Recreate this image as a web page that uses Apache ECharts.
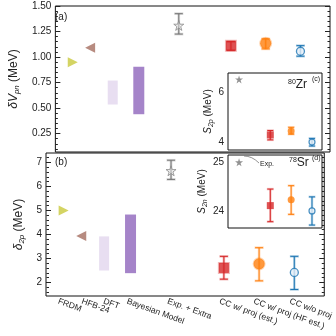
<!DOCTYPE html>
<html>
<head>
<meta charset="utf-8">
<script src="https://cdn.jsdelivr.net/npm/echarts@6/dist/echarts.min.js"></script>
<style>
  html, body { margin: 0; padding: 0; background: #fff; }
  #main { width: 336px; height: 336px; }
</style>
</head>
<body>
<div id="main"></div>
<script>
var myChart = echarts.init(document.getElementById('main'));

// x positions of the methods and their names
var xPos = [0.5, 1.0, 1.65, 2.4, 3.55, 5.05, 6.05, 7.05];
var categories = ['FRDM', 'HFB-24', 'DFT', 'Bayesian Model', 'Exp. + Extra',
                  'CC w/ proj (est.)', 'CC w/ proj (HF est.)', 'CC w/o proj'];

// panel (a): delta V_pn
var frdmA = 0.95;
var hfbA = 1.09;
var dftA = [0.535, 0.77];
var bayesA = [0.44, 0.905];
var expA = [1.31, 1.225, 1.425];       // value, low, high
var ccProjA = [1.11, 1.066, 1.151];
var ccProjHFA = [1.135, 1.08, 1.178];
var ccNoProjA = [1.057, 1.008, 1.112];

// panel (b): delta_2p
var frdmB = 5.0;
var hfbB = 3.94;
var dftB = [2.5, 3.92];
var bayesB = [2.39, 4.83];
var expB = [6.65, 6.29, 7.09];
var ccProjB = [2.61, 2.14, 3.09];
var ccProjHFB = [2.78, 2.07, 3.45];
var ccNoProjB = [2.42, 1.71, 3.09];

// inset (c): S_2p of 80Zr
var expC = 6.54;
var ccProjC = [4.29, 4.09, 4.47];
var ccProjHFC = [4.45, 4.32, 4.6];
var ccNoProjC = [4.0, 3.84, 4.15];

// inset (d): S_2n of 78Sr
var expD = 25.0;
var ccProjD = [24.11, 23.78, 24.45];
var ccProjHFD = [24.23, 23.93, 24.52];
var ccNoProjD = [24.0, 23.71, 24.29];

// tick values
var ticksA = [0.25, 0.5, 0.75, 1.0, 1.25, 1.5];
var minorA = [0.1, 0.15, 0.2, 0.3, 0.35, 0.4, 0.45, 0.55, 0.6, 0.65, 0.7, 0.8, 0.85, 0.9, 0.95,
              1.05, 1.1, 1.15, 1.2, 1.3, 1.35, 1.4, 1.45];
var ticksB = [2, 3, 4, 5, 6, 7];
var minorB = [1.6, 1.8, 2.2, 2.4, 2.6, 2.8, 3.2, 3.4, 3.6, 3.8, 4.2, 4.4, 4.6, 4.8,
              5.2, 5.4, 5.6, 5.8, 6.2, 6.4, 6.6, 6.8, 7.2];
var ticksC = [4, 6];
var minorC = [4.4, 4.8, 5.2, 5.6, 6.4];
var ticksD = [24, 25];
var minorD = [23.8, 24.2, 24.4, 24.6, 24.8];

var FONT = 'Liberation Sans';
var STAR = 'path://M50,0 L61.8,36.2 L100,36.2 L69.1,58.8 L80.9,95.1 L50,72.4 L19.1,95.1 L30.9,58.8 L0,36.2 L38.2,36.2 Z';

var grids = [
    { left: 46, top: 6, width: 284, height: 146 },
    { left: 46, top: 153, width: 284, height: 143 },
    { left: 228, top: 73, width: 94, height: 77 },
    { left: 228, top: 155, width: 94, height: 73 }
];
grids.forEach(function (g) {
    g.show = true;
    g.borderColor = '#111';
    g.borderWidth = 1;
    g.backgroundColor = '#fff';
    g.containLabel = false;
});
grids[2].z = 5;
grids[3].z = 5;

function hiddenX(gi, min, max) {
    return {
        type: 'value', gridIndex: gi, min: min, max: max, position: 'bottom',
        axisLine: { show: false }, axisTick: { show: false },
        axisLabel: { show: false }, splitLine: { show: false }
    };
}

// label axes of the bottom panel: one axis per name (so the overlap check drops none),
// each nudged left by a few pixels like the rotated names in the original
var labelNudgePx = [5.5, -0.5, 0.5, 3.5, 3.5, 4.5, 5.5, 4.5];
var pxPerUnit = 284 / 7.9;
function labelAxis(k) {
    var s = labelNudgePx[k] / pxPerUnit;
    var ax = hiddenX(1, 0 + s, 7.9 + s);
    ax.axisLabel = {
        show: true,
        customValues: [xPos[k]],
        rotate: -20,
        margin: 5,
        fontSize: 8.5,
        fontFamily: FONT,
        color: '#222',
        hideOverlap: false,
        showMinLabel: true,
        showMaxLabel: true,
        formatter: function (v) {
            var i = xPos.indexOf(v);
            return i >= 0 ? categories[i] : '';
        }
    };
    return ax;
}

function yAxisSet(gi, min, max, major, minor, name, withRight, labelSize, gap) {
    var base = {
        type: 'value', gridIndex: gi, min: min, max: max,
        axisLine: { show: false }, splitLine: { show: false }
    };
    var big = gi < 2;
    var list = [];
    list.push(Object.assign({}, base, {
        position: 'left',
        axisTick: { show: true, inside: true, length: big ? 5 : 4, customValues: major, lineStyle: { color: '#222' } },
        axisLabel: { show: true, customValues: major, margin: 4, fontSize: labelSize, fontFamily: FONT, color: '#222',
            formatter: function (v) { return gi === 0 ? v.toFixed(2) : String(Math.round(v)); } },
        name: name,
        nameLocation: 'middle',
        nameGap: gap,
        nameTextStyle: {
            fontFamily: FONT, fontSize: big ? 12 : 10, color: '#222',
            rich: {
                i: { fontFamily: FONT, fontSize: big ? 12 : 10, fontStyle: 'italic', color: '#222' },
                u: { fontFamily: FONT, fontSize: big ? 12 : 10, color: '#222' },
                sub: { fontFamily: FONT, fontSize: big ? 8 : 7, fontStyle: 'italic', color: '#222', verticalAlign: 'bottom', padding: [6, 0, 0, 0] }
            }
        }
    }));
    list.push(Object.assign({}, base, {
        position: 'left',
        axisTick: { show: true, inside: true, length: 2.5, customValues: minor, lineStyle: { color: '#222' } },
        axisLabel: { show: false }
    }));
    if (withRight) {
        list.push(Object.assign({}, base, {
            position: 'right',
            axisTick: { show: true, inside: true, length: 5, customValues: major, lineStyle: { color: '#222' } },
            axisLabel: { show: false }
        }));
        list.push(Object.assign({}, base, {
            position: 'right',
            axisTick: { show: true, inside: true, length: 2.5, customValues: minor, lineStyle: { color: '#222' } },
            axisLabel: { show: false }
        }));
    }
    return list;
}

var yAxes = [].concat(
    yAxisSet(0, 0.07, 1.5, ticksA, minorA, '{i|δV}{sub|pn}{u| (MeV)}', true, 10, 20), // 0..3
    yAxisSet(1, 1.44, 7.39, ticksB, minorB, '{i|δ}{sub|2p}{u| (MeV)}', true, 10, 20), // 4..7
    yAxisSet(2, 3.68, 6.8, ticksC, minorC, '{i|S}{sub|2p}{u| (MeV)}', false, 10, 12), // 8..9
    yAxisSet(3, 23.65, 25.15, ticksD, minorD, '{i|S}{sub|2n}{u| (MeV)}', false, 10, 17) // 10..11
);

function errRender(capW, darkW, lightW) {
    return function (params, api) {
        var x = api.value(0);
        var pLo = api.coord([x, api.value(1)]);
        var pHi = api.coord([x, api.value(2)]);
        var c = api.visual('color');
        var kids = [];
        [[lightW, 0.3, capW + 1], [darkW, 1, capW]].forEach(function (s) {
            var st = { stroke: c, lineWidth: s[0], opacity: s[1] };
            kids.push({ type: 'line', shape: { x1: pLo[0], y1: pLo[1], x2: pHi[0], y2: pHi[1] }, style: st });
            kids.push({ type: 'line', shape: { x1: pLo[0] - s[2] / 2, y1: pLo[1], x2: pLo[0] + s[2] / 2, y2: pLo[1] }, style: st });
            kids.push({ type: 'line', shape: { x1: pHi[0] - s[2] / 2, y1: pHi[1], x2: pHi[0] + s[2] / 2, y2: pHi[1] }, style: st });
        });
        return { type: 'group', children: kids };
    };
}

function rectRender(w) {
    return function (params, api) {
        var x = api.value(0);
        var pLo = api.coord([x, api.value(1)]);
        var pHi = api.coord([x, api.value(2)]);
        return {
            type: 'rect',
            shape: { x: pLo[0] - w / 2, y: pHi[1], width: w, height: pLo[1] - pHi[1] },
            style: { fill: api.visual('color') }
        };
    };
}

var series = [];

function addPanel(gi, frdm, hfb, dft, bayes, exp, cc1, cc2, cc3) {
    var xi = gi, yi = gi * 4;
    series.push({ type: 'scatter', xAxisIndex: xi, yAxisIndex: yi, symbol: 'triangle', symbolRotate: -90,
        symbolSize: 10, itemStyle: { color: '#c9c93c' }, data: [[xPos[0], frdm]] });
    series.push({ type: 'scatter', xAxisIndex: xi, yAxisIndex: yi, symbol: 'triangle', symbolRotate: 90,
        symbolSize: 10, itemStyle: { color: '#a56e60' }, data: [[xPos[1], hfb]] });
    series.push({ type: 'custom', xAxisIndex: xi, yAxisIndex: yi, renderItem: rectRender(10),
        itemStyle: { color: '#e8def1' }, data: [[xPos[2], dft[0], dft[1]]] });
    series.push({ type: 'custom', xAxisIndex: xi, yAxisIndex: yi, renderItem: rectRender(11),
        itemStyle: { color: '#a584c9' }, data: [[xPos[3], bayes[0], bayes[1]]] });
    var pts = [[exp, '#777777'], [cc1, '#d62728'], [cc2, '#ff7f0e'], [cc3, '#1f77b4']];
    pts.forEach(function (p, k) {
        series.push({ type: 'custom', xAxisIndex: xi, yAxisIndex: yi, renderItem: errRender(8, 1, 2.6),
            itemStyle: { color: p[1] }, z: 3, data: [[xPos[4 + k], p[0][1], p[0][2]]] });
    });
    series.push({ type: 'scatter', xAxisIndex: xi, yAxisIndex: yi, symbol: STAR, symbolSize: 10, z: 4,
        itemStyle: { color: 'rgba(235,235,235,0.6)', borderColor: '#888', borderWidth: 1 }, data: [[xPos[4], exp[0]]] });
    series.push({ type: 'scatter', xAxisIndex: xi, yAxisIndex: yi, symbol: 'rect', symbolSize: 10, z: 4,
        itemStyle: { color: '#d62728', borderColor: 'rgba(214,39,40,0.4)', borderWidth: 2 }, data: [[xPos[5], cc1[0]]] });
    series.push({ type: 'scatter', xAxisIndex: xi, yAxisIndex: yi, symbol: 'circle', symbolSize: 11, z: 4,
        itemStyle: { color: '#ff7f0e', borderColor: 'rgba(255,127,14,0.4)', borderWidth: 2 }, data: [[xPos[6], cc2[0]]] });
    series.push({ type: 'scatter', xAxisIndex: xi, yAxisIndex: yi, symbol: 'circle', symbolSize: 8, z: 4,
        itemStyle: { color: '#e3eef7', borderColor: '#1f77b4', borderWidth: 1.3 }, data: [[xPos[7], cc3[0]]] });
}

function addInset(gi, yi, exp, cc1, cc2, cc3) {
    var pts = [[cc1, '#d62728'], [cc2, '#ff7f0e'], [cc3, '#1f77b4']];
    pts.forEach(function (p, k) {
        series.push({ type: 'custom', xAxisIndex: gi, yAxisIndex: yi, renderItem: errRender(6, 1, 2.4),
            itemStyle: { color: p[1] }, z: 6, data: [[xPos[5 + k], p[0][1], p[0][2]]] });
    });
    series.push({ type: 'scatter', xAxisIndex: gi, yAxisIndex: yi, symbol: STAR, symbolSize: 8, z: 7,
        itemStyle: { color: '#777' }, data: [[xPos[4], exp]] });
    series.push({ type: 'scatter', xAxisIndex: gi, yAxisIndex: yi, symbol: 'rect', symbolSize: 7, z: 7,
        itemStyle: { color: '#d62728' }, data: [[xPos[5], cc1[0]]] });
    series.push({ type: 'scatter', xAxisIndex: gi, yAxisIndex: yi, symbol: 'circle', symbolSize: 7, z: 7,
        itemStyle: { color: '#ff7f0e' }, data: [[xPos[6], cc2[0]]] });
    series.push({ type: 'scatter', xAxisIndex: gi, yAxisIndex: yi, symbol: 'circle', symbolSize: 6, z: 7,
        itemStyle: { color: '#e3eef7', borderColor: '#1f77b4', borderWidth: 1.2 }, data: [[xPos[7], cc3[0]]] });
}

addPanel(0, frdmA, hfbA, dftA, bayesA, expA, ccProjA, ccProjHFA, ccNoProjA);
addPanel(1, frdmB, hfbB, dftB, bayesB, expB, ccProjB, ccProjHFB, ccNoProjB);
addInset(2, 8, expC, ccProjC, ccProjHFC, ccNoProjC);
addInset(3, 10, expD, ccProjD, ccProjHFD, ccNoProjD);

var xAxes = [hiddenX(0, 0, 7.9), hiddenX(1, 0, 7.9), hiddenX(2, 3.02, 7.53), hiddenX(3, 3.02, 7.53)];
xPos.forEach(function (v, k) { xAxes.push(labelAxis(k)); });

var txt = { fontFamily: FONT, fill: '#222' };
var option = {
    animation: false,
    backgroundColor: '#fff',
    grid: grids,
    xAxis: xAxes,
    yAxis: yAxes,
    series: series,
    graphic: [
        { type: 'text', left: 55, top: 12, z: 10, style: Object.assign({ text: '(a)', fontSize: 10 }, txt) },
        { type: 'text', left: 55, top: 157, z: 10, style: Object.assign({ text: '(b)', fontSize: 10 }, txt) },
        { type: 'text', left: 288, top: 79, z: 10, style: Object.assign({
            text: '{s|80}{e|Zr}', rich: { s: { fontSize: 7, fontFamily: FONT, verticalAlign: 'top' }, e: { fontSize: 12, fontFamily: FONT } } }, txt) },
        { type: 'text', left: 312, top: 76, z: 10, style: Object.assign({ text: '(c)', fontSize: 7 }, txt) },
        { type: 'text', left: 289, top: 157, z: 10, style: Object.assign({
            text: '{s|78}{e|Sr}', rich: { s: { fontSize: 7, fontFamily: FONT, verticalAlign: 'top' }, e: { fontSize: 12, fontFamily: FONT } } }, txt) },
        { type: 'text', left: 312, top: 155, z: 10, style: Object.assign({ text: '(d)', fontSize: 7 }, txt) },
        { type: 'text', left: 260, top: 161, z: 10, style: Object.assign({ text: 'Exp.', fontSize: 7 }, txt) },
        { type: 'bezierCurve', z: 10, shape: { x1: 259, y1: 163, x2: 244, y2: 156, cpx1: 252, cpy1: 156 },
          style: { stroke: '#777', lineWidth: 0.8, fill: null } }
    ]
};

myChart.setOption(option);
</script>
</body>
</html>
